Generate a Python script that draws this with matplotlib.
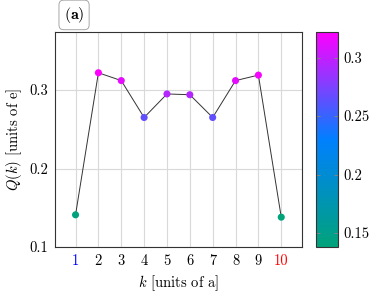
import numpy as np
import matplotlib.pyplot as plt
from matplotlib.colors import LinearSegmentedColormap
from matplotlib.ticker import FuncFormatter

plt.rcParams['font.family'] = 'cmr10'
plt.rcParams['mathtext.fontset'] = 'cm'
plt.rcParams['axes.formatter.use_mathtext'] = True

# site index and charge
k = np.array([1, 2, 3, 4, 5, 6, 7, 8, 9, 10])
Q = np.array([0.141, 0.322, 0.312, 0.265, 0.295, 0.294, 0.265, 0.312, 0.319, 0.138])
tick_colors = ['blue', 'black', 'black', 'black', 'black', 'black', 'black', 'black', 'black', 'red']
cb_ticks = [0.15, 0.2, 0.25, 0.3]

cmap = LinearSegmentedColormap.from_list('gbm', ['#00a37a', '#0080ff', '#ff00ff'])

fig = plt.figure(figsize=(3.74, 2.93), dpi=100)
ax = fig.add_axes([0.147, 0.157, 0.660, 0.734])
cax = fig.add_axes([0.845, 0.157, 0.059, 0.734])

ax.plot(k, Q, color='#333333', lw=0.7, zorder=2)
sc = ax.scatter(k, Q, c=Q, cmap=cmap, s=26, zorder=3, edgecolors='none')

ax.set_xlim(0.1, 10.9)
ax.set_ylim(0.1, 0.374)
ax.set_xticks(k)
ax.set_xticklabels([str(i) for i in k])
for lab, c in zip(ax.get_xticklabels(), tick_colors):
    lab.set_color(c)
ax.set_yticks([0.1, 0.2, 0.3])
ax.yaxis.set_major_formatter(FuncFormatter(lambda v, p: '%g' % v))
ax.grid(True, color='#d9d9d9', lw=0.8)
ax.set_axisbelow(True)
ax.tick_params(length=0, labelsize=10.5, pad=5)
for s in ax.spines.values():
    s.set_color('#333333')
    s.set_linewidth(0.8)

ax.set_xlabel(r'$k$ [units of a]', fontsize=10.5)
ax.set_ylabel(r'$Q(k)$ [units of e]', fontsize=10.5)

cb = fig.colorbar(sc, cax=cax)
cb.set_ticks(cb_ticks)
cb.ax.yaxis.set_major_formatter(FuncFormatter(lambda v, p: '%g' % v))
cb.ax.yaxis.set_ticks_position('both')
cb.ax.tick_params(labelsize=10.5, direction='in', color='#888888', length=3, width=0.6,
                  left=True, right=True, labelleft=False, labelright=True)
cb.outline.set_color('#333333')
cb.outline.set_linewidth(0.8)

fig.text(0.198, 0.949, r'$\mathbf{(a)}$', fontsize=11.5, ha='center', va='center',
         bbox=dict(boxstyle='round,pad=0.3', fc='white', ec='#999999', lw=0.6))

fig.savefig('out.png', dpi=100)
